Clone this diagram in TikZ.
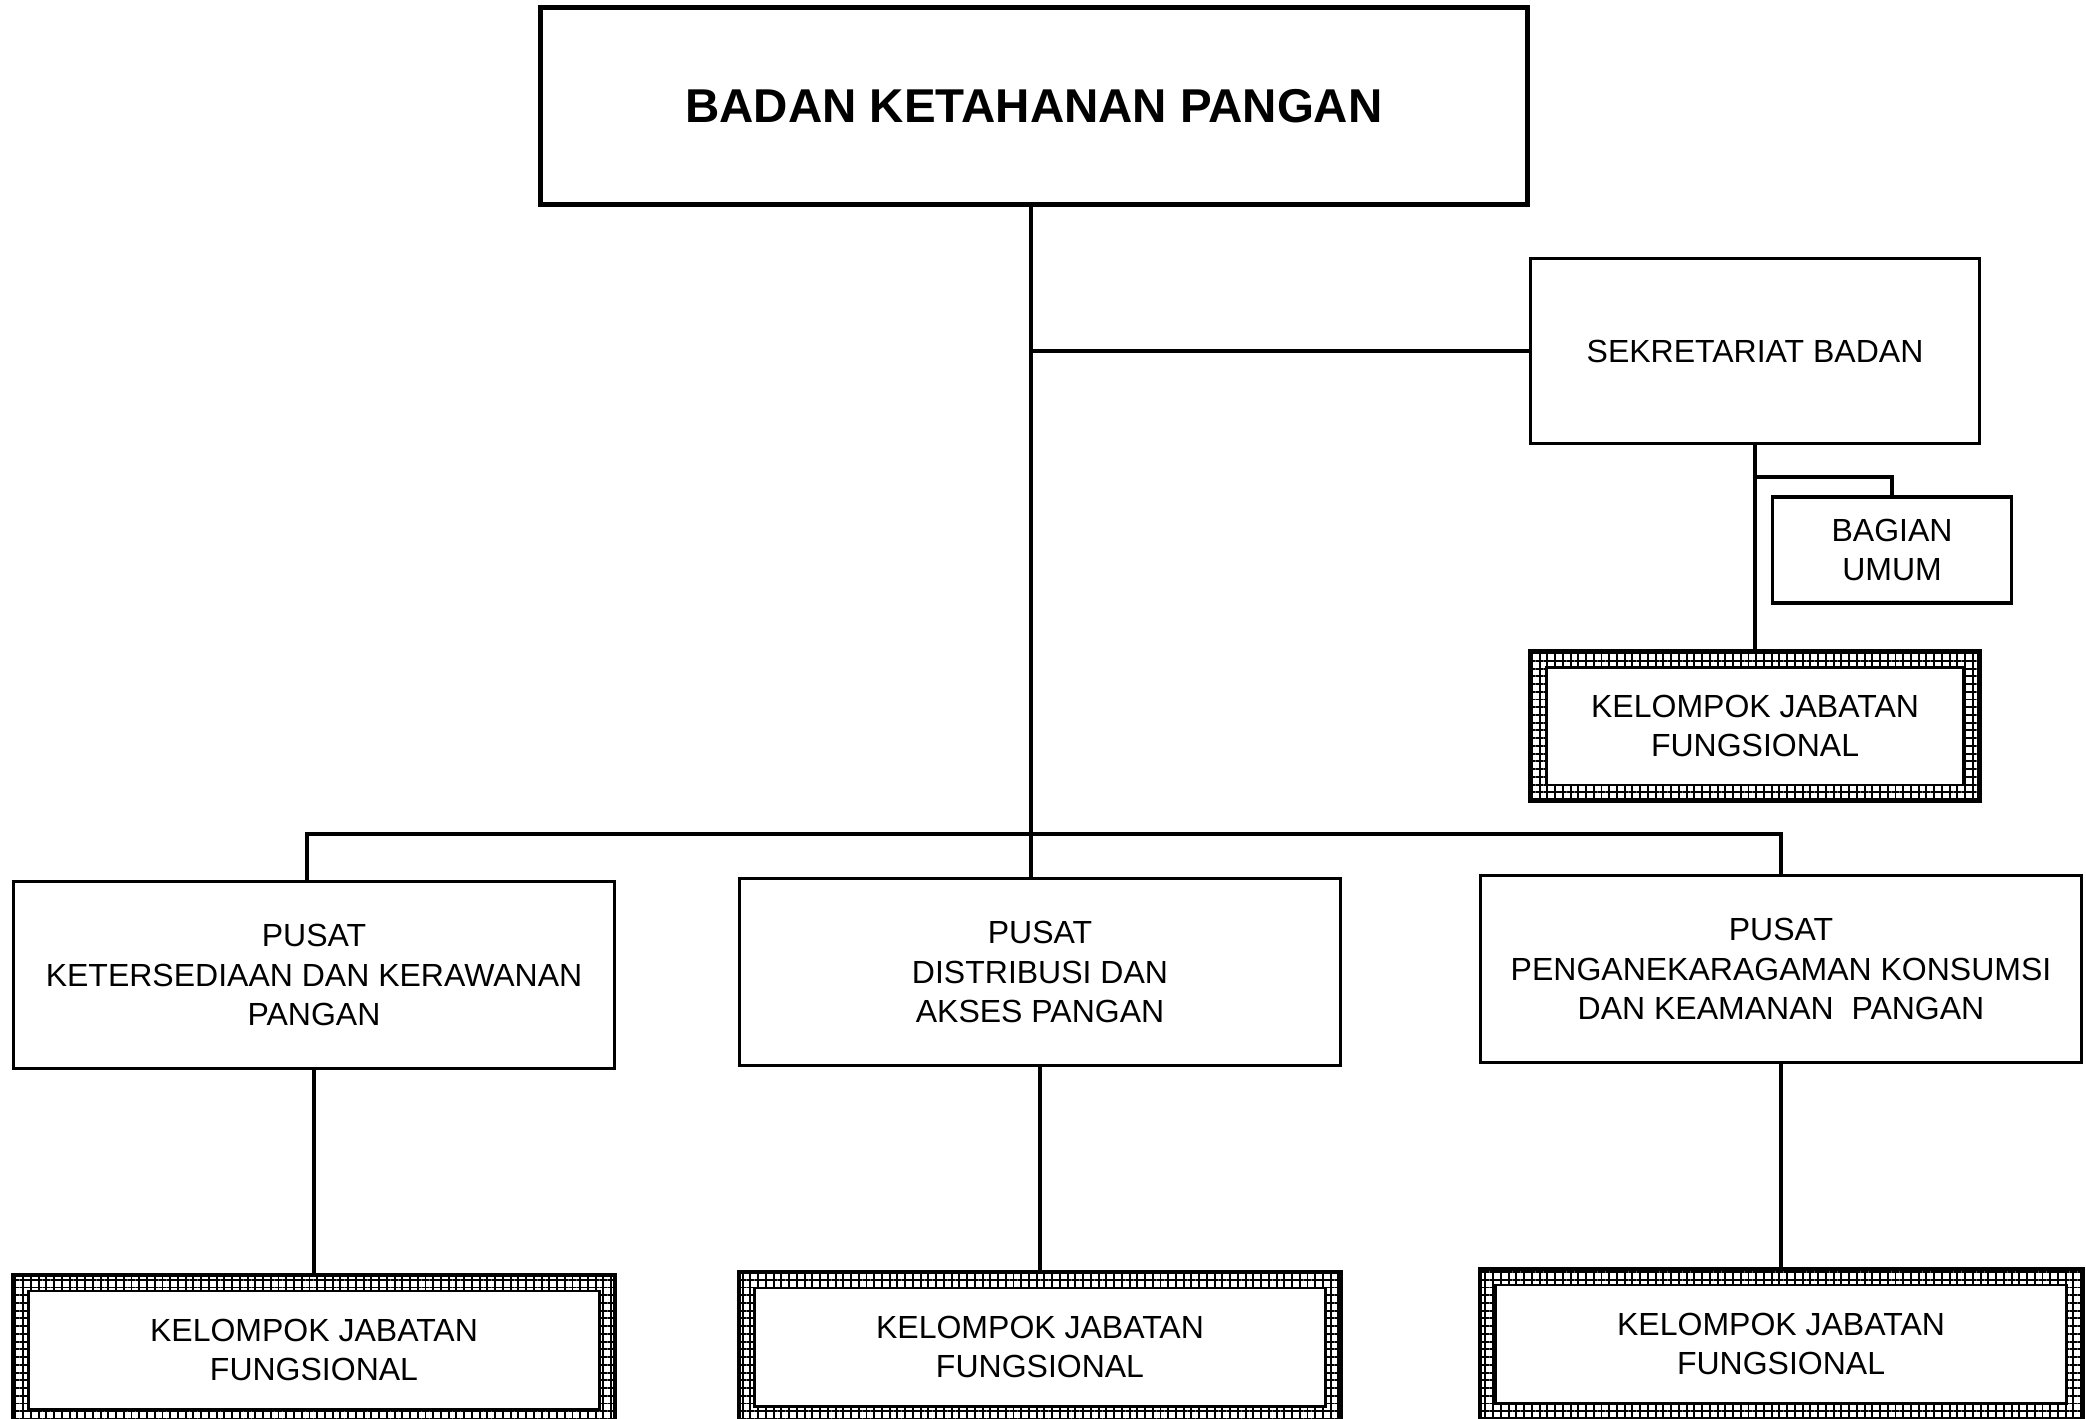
\documentclass[tikz,border=0pt]{standalone}
\usepackage{fontspec}
\setmainfont{Liberation Sans}
\usetikzlibrary{patterns.meta}
\newcommand{\teksbiasa}{\fontsize{9.1}{11.1}\selectfont}
\newcommand{\teksjudul}{\fontsize{13.5}{16}\selectfont\bfseries}

\begin{document}
\begin{tikzpicture}[
    x=0.01cm, y=-0.01cm,
    node distance=3.75cm,
    unit/.style={rectangle, draw, line width=0.9pt, align=center, inner sep=0pt, font=\teksbiasa},
    kepala/.style={rectangle, draw, line width=1.4pt, minimum width=9.86cm, minimum height=1.97cm, font=\teksjudul},
    pusat/.style={unit, minimum width=6cm, minimum height=1.87cm},
    jabatan/.style={rectangle, draw, line width=1.3pt, align=center, inner sep=0pt, font=\teksbiasa, minimum width=6.02cm, minimum height=1.5cm,
        pattern={Hatch[angle=0, distance=2.2pt, line width=0.55pt]},
        path picture={\draw [fill=white, line width=0.8pt]
            ([shift={(4.5pt,-4.5pt)}]path picture bounding box.north west) rectangle
            ([shift={(-4.5pt,4.5pt)}]path picture bounding box.south east);}},
    garis/.style={line width=0.9pt}
]
    \useasboundingbox (0,0) rectangle (2086,1419);
    \clip (0,0) rectangle (2086,1419);

    % Pimpinan
    \node [kepala] (badan) at (1034,106) {BADAN KETAHANAN PANGAN};

    % Sekretariat
    \node [unit, minimum width=4.49cm, minimum height=1.85cm] (sekretariat) at (1755,351) {SEKRETARIAT BADAN};
    \node [unit, minimum width=2.39cm, minimum height=1.06cm] (bagian) at (1892,550) {BAGIAN\\UMUM};
    \node [jabatan, minimum width=4.49cm, minimum height=1.49cm, below of=sekretariat] (jabatan0) {KELOMPOK JABATAN\\FUNGSIONAL};

    % Pusat
    \node [pusat] (pusat1) at (314,975) {PUSAT\\KETERSEDIAAN DAN KERAWANAN\\PANGAN};
    \node [pusat] (pusat2) at (1040,972) {PUSAT\\DISTRIBUSI DAN\\AKSES PANGAN};
    \node [pusat] (pusat3) at (1781,969) {PUSAT\\PENGANEKARAGAMAN KONSUMSI\\DAN KEAMANAN\ \ PANGAN};

    % Kelompok jabatan fungsional
    \node [jabatan, below of=pusat1] (jabatan1) {KELOMPOK JABATAN\\FUNGSIONAL};
    \node [jabatan, below of=pusat2] (jabatan2) {KELOMPOK JABATAN\\FUNGSIONAL};
    \node [jabatan, below of=pusat3] (jabatan3) {KELOMPOK JABATAN\\FUNGSIONAL};

    % Garis
    \coordinate (cabang) at (1031,834);
    \coordinate (kiri) at (307,834);
    \coordinate (cabbagian) at (1755,477);
    \draw [garis] (badan.south -| cabang) -- (cabang |- pusat2.north);
    \draw [garis] (cabang |- sekretariat.west) -- (sekretariat.west);
    \draw [garis] (kiri |- pusat1.north) -- (kiri) -| (pusat3.north);
    \draw [garis] (sekretariat.south) -- (jabatan0.north);
    \draw [garis] (cabbagian) -| (bagian.north);
    \foreach \i in {1,2,3}
        \draw [garis] (pusat\i.south) -- (jabatan\i.north);
\end{tikzpicture}
\end{document}
